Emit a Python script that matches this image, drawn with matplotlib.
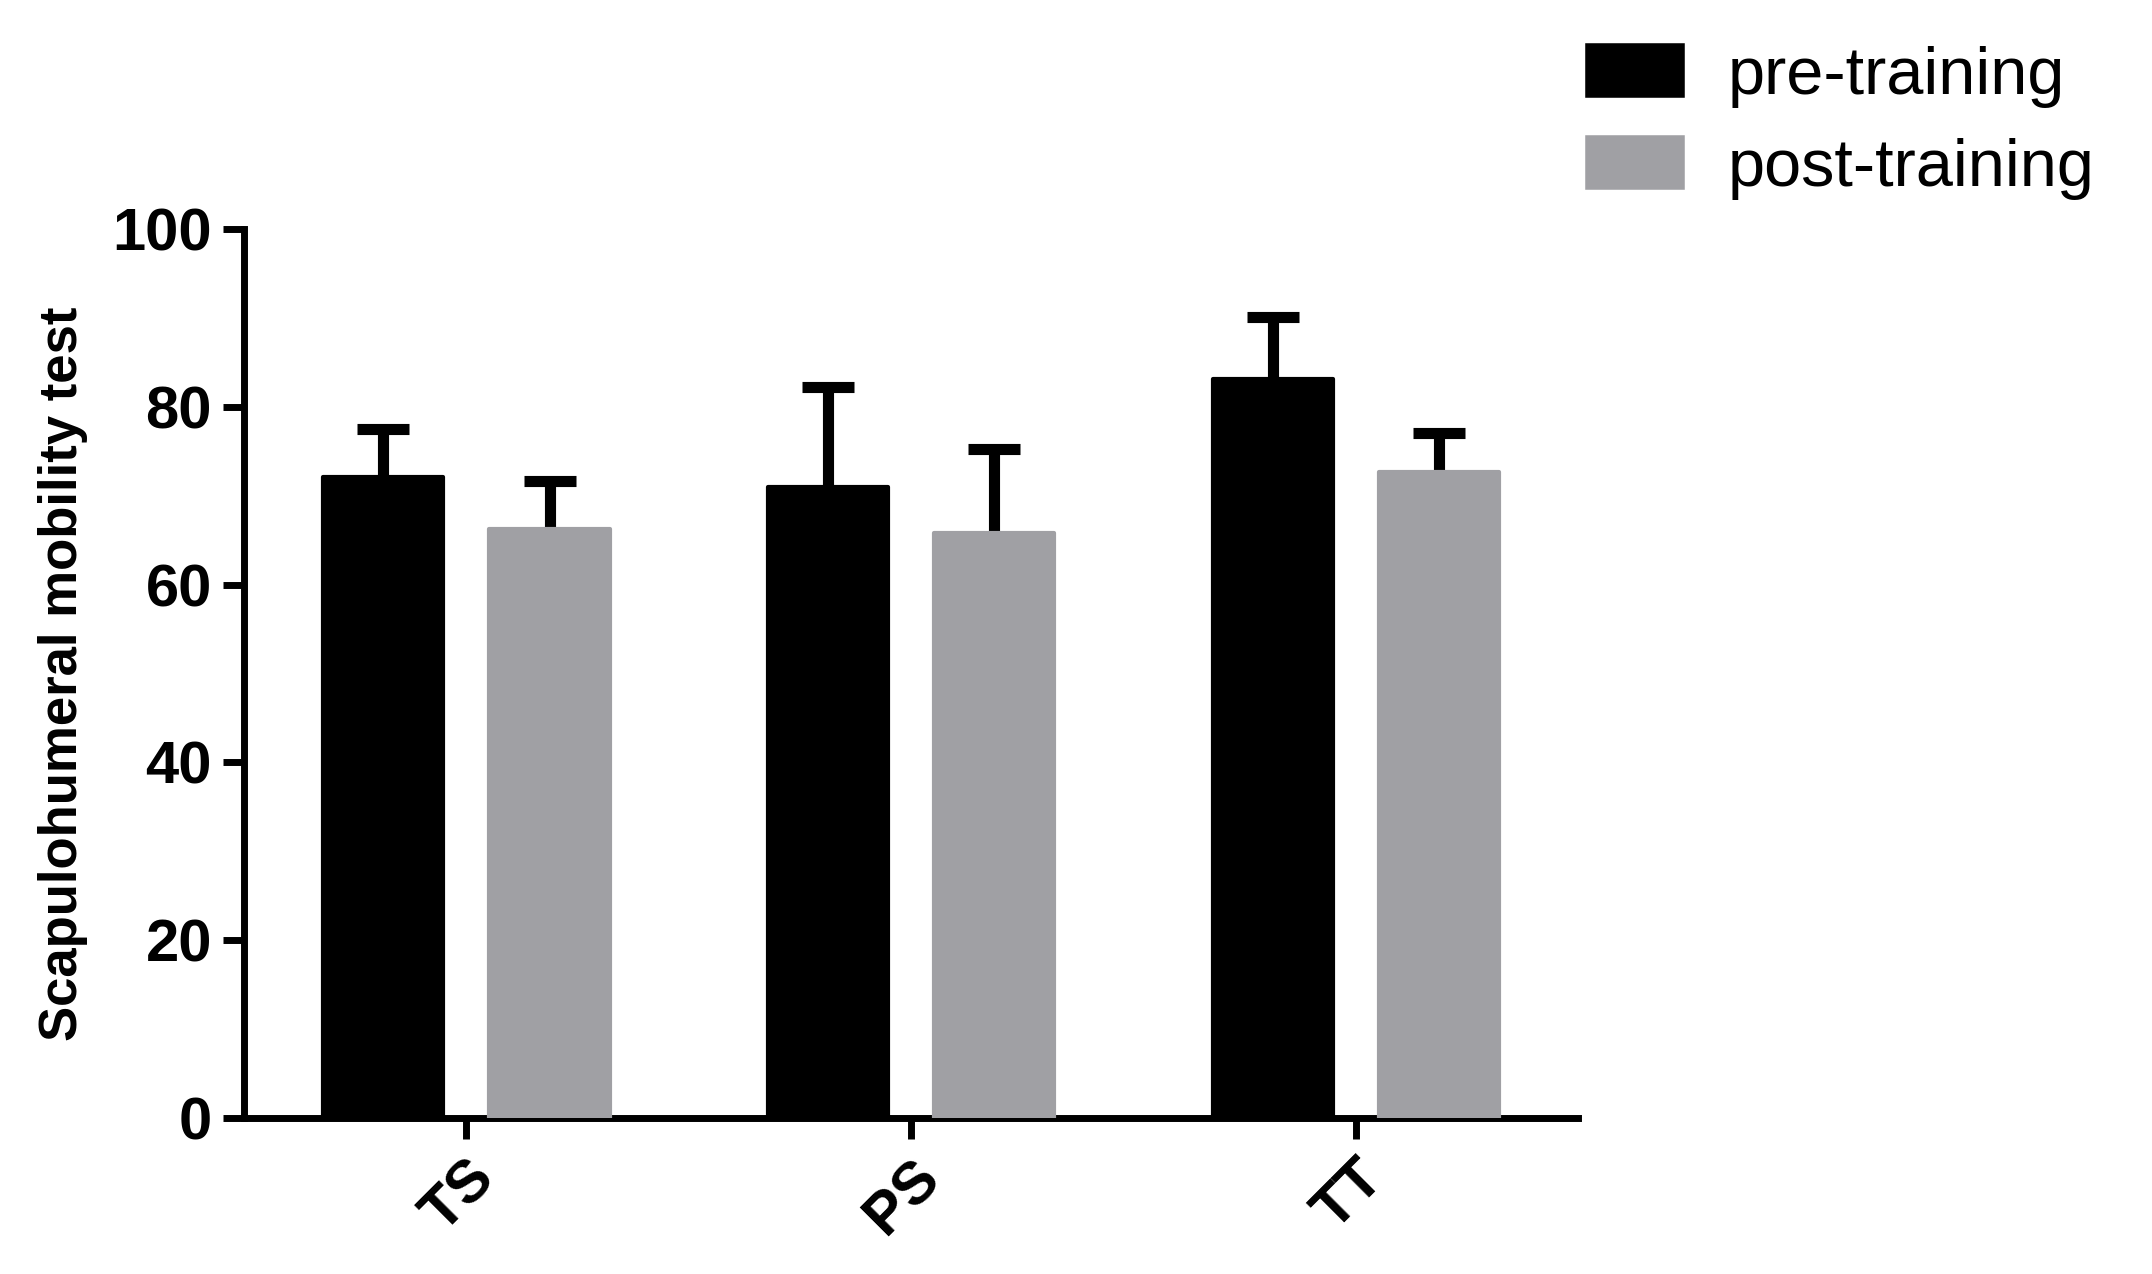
import matplotlib.pyplot as plt
from matplotlib.patches import Patch
import numpy as np

plt.rcParams['font.family'] = ['Liberation Sans', 'DejaVu Sans']

groups = ["TS", "PS", "TT"]
series_names = ["pre-training", "post-training"]
pre_mean = [72.1, 71.0, 83.1]
pre_sd = [5.4, 11.2, 7.0]
post_mean = [66.3, 65.8, 72.7]
post_sd = [5.4, 9.5, 4.3]
colors = ["#000000", "#a0a0a4"]

fig = plt.figure(figsize=(21.52, 12.74), dpi=100)
ax = fig.add_axes([0.1134, 0.1225, 0.6199, 0.6978])

x = np.arange(len(groups))
offset = 0.187
width = 0.27

for means, sds, color, shift in [(pre_mean, pre_sd, colors[0], -offset),
                                 (post_mean, post_sd, colors[1], offset)]:
    eb = ax.errorbar(x + shift, means, yerr=[np.zeros(len(sds)), sds], fmt='none',
                     ecolor='black', elinewidth=8, capsize=19, capthick=8, zorder=2)
    # only the upper cap is wanted
    eb[1][0].set_visible(False)
    ax.bar(x + shift, means, width=width, color=color, edgecolor=color,
           linewidth=3, joinstyle='round', zorder=3)

ax.set_xlim(-0.5, 2.5)
ax.set_ylim(0, 100)
ax.set_yticks([0, 20, 40, 60, 80, 100])
ax.set_xticks(x)
ax.set_xticklabels(groups, rotation=45, ha='right', rotation_mode='anchor')

for side in ['top', 'right']:
    ax.spines[side].set_visible(False)
for side in ['left', 'bottom']:
    ax.spines[side].set_linewidth(5)

ax.tick_params(axis='both', width=5, length=15, pad=8, labelsize=43)
for lbl in ax.get_xticklabels() + ax.get_yticklabels():
    lbl.set_fontweight('bold')

ax.set_ylabel("Scapulohumeral mobility test", fontsize=38, fontweight='bold')
ax.yaxis.set_label_coords(-0.117, 0.5)

handles = [Patch(facecolor=c, edgecolor=c, linewidth=4, joinstyle='round') for c in colors]
fig.legend(handles, series_names, loc='upper left', bbox_to_anchor=(0.738, 0.964),
           frameon=False, fontsize=48, handlelength=1.4, handleheight=0.75,
           handletextpad=0.7, labelspacing=0.45, borderpad=0, borderaxespad=0)

fig.savefig("out.png", dpi=100)
